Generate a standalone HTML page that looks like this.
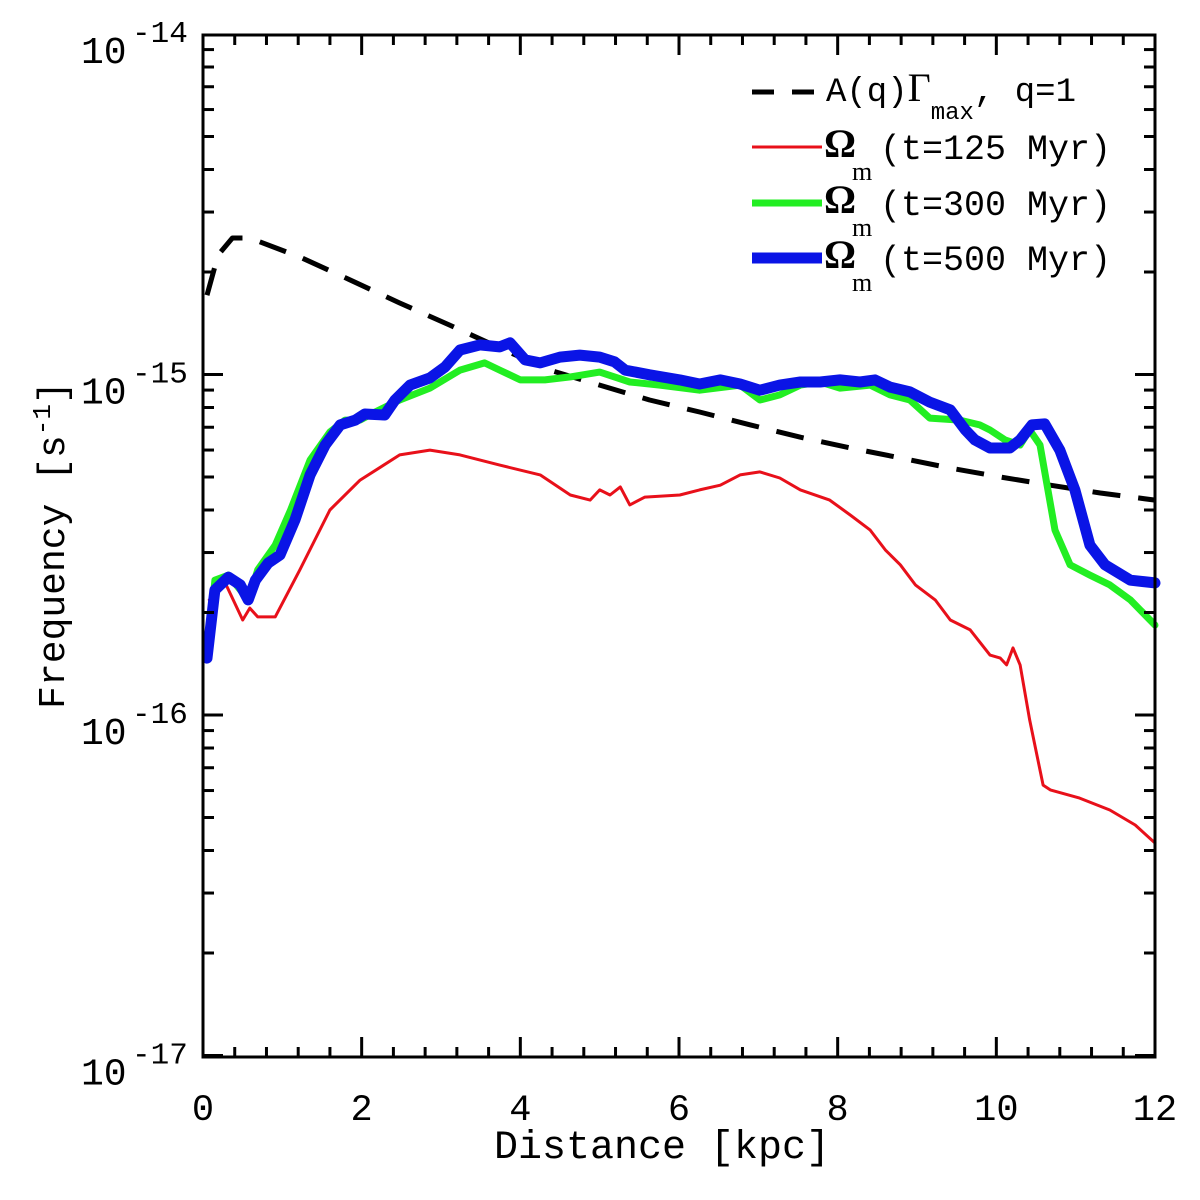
<!DOCTYPE html>
<html><head><meta charset="utf-8"><style>
html,body{margin:0;padding:0;background:#fff;}
svg{display:block;font-family:"Liberation Mono",monospace;}
</style></head><body>
<svg id="chart" width="1200" height="1200" viewBox="0 0 1200 1200" xmlns="http://www.w3.org/2000/svg">
<g id="marks"></g>
<g id="axes"></g>
<g id="legend"></g>
</svg>
<script>
// Data: x in kpc, y as log10(frequency / 1e-16 s^-1)
const dashX=[0.05,0.19,0.37,0.59,1.22,1.85,2.48,3.11,3.74,4.37,5.00,5.63,6.26,6.90,7.53,8.16,8.79,9.42,10.05,10.68,11.31,12.0];
const dashY=[1.233,1.351,1.401,1.401,1.345,1.278,1.210,1.145,1.078,1.013,0.969,0.925,0.890,0.852,0.816,0.784,0.755,0.725,0.699,0.675,0.652,0.631];
const redX=[0.08,0.28,0.50,0.59,0.69,0.91,1.22,1.60,1.98,2.48,2.86,3.24,3.74,4.25,4.63,4.88,5.00,5.13,5.26,5.38,5.57,6.01,6.26,6.52,6.77,7.02,7.27,7.53,7.90,8.16,8.41,8.60,8.79,8.98,9.23,9.42,9.67,9.92,10.05,10.13,10.21,10.30,10.42,10.59,10.68,11.05,11.43,11.75,12.0];
const redY=[0.338,0.388,0.279,0.314,0.288,0.288,0.426,0.602,0.690,0.764,0.778,0.764,0.734,0.705,0.646,0.631,0.661,0.646,0.670,0.617,0.640,0.646,0.661,0.675,0.705,0.714,0.696,0.661,0.631,0.587,0.543,0.485,0.441,0.382,0.338,0.279,0.250,0.176,0.167,0.147,0.197,0.147,-0.015,-0.206,-0.220,-0.244,-0.279,-0.323,-0.376];
const greenX=[0.05,0.15,0.32,0.47,0.57,0.69,0.91,1.10,1.35,1.60,1.79,1.98,2.17,2.48,2.86,3.24,3.55,3.74,4.00,4.31,4.63,5.00,5.38,5.76,6.26,6.77,7.02,7.27,7.53,7.78,8.03,8.41,8.66,8.91,9.16,9.54,9.79,9.92,10.11,10.30,10.42,10.55,10.74,10.93,11.18,11.43,11.69,12.0];
const greenY=[0.162,0.396,0.411,0.367,0.338,0.426,0.499,0.600,0.749,0.831,0.866,0.866,0.890,0.925,0.960,1.013,1.034,1.013,0.984,0.984,0.993,1.007,0.978,0.969,0.954,0.969,0.925,0.940,0.969,0.978,0.960,0.969,0.940,0.925,0.872,0.866,0.852,0.837,0.808,0.793,0.837,0.793,0.543,0.441,0.411,0.382,0.338,0.264];
const blueX=[0.05,0.15,0.32,0.47,0.57,0.66,0.82,0.97,1.16,1.35,1.54,1.73,1.92,2.04,2.29,2.42,2.61,2.86,3.05,3.24,3.49,3.74,3.87,4.06,4.25,4.50,4.75,5.00,5.19,5.32,5.63,6.01,6.26,6.52,6.77,7.02,7.27,7.53,7.78,8.03,8.28,8.47,8.66,8.91,9.16,9.42,9.61,9.73,9.92,10.17,10.30,10.45,10.61,10.80,10.99,11.18,11.37,11.69,12.0];
const blueY=[0.167,0.367,0.405,0.382,0.338,0.396,0.446,0.470,0.573,0.705,0.793,0.852,0.866,0.884,0.881,0.925,0.969,0.990,1.022,1.072,1.087,1.081,1.093,1.043,1.034,1.051,1.057,1.051,1.037,1.013,0.999,0.984,0.972,0.984,0.972,0.954,0.969,0.978,0.978,0.984,0.978,0.984,0.963,0.949,0.919,0.896,0.837,0.808,0.784,0.784,0.808,0.852,0.855,0.778,0.661,0.499,0.441,0.396,0.388];
const xTicks=[0,2,4,6,8,10,12];
const yDecades=[-14,-15,-16,-17];

const NS='http://www.w3.org/2000/svg';
const L=203,R=1155,T=35,B=1057;
const xs=v=>L+(v/12)*(R-L);
const ys=lg=>715-lg*340.5; // lg = log10(f/1e-16)
const ysDec=d=>ys(d+16);
function mk(tag,attrs,parent){const e=document.createElementNS(NS,tag);for(const k in attrs)e.setAttribute(k,attrs[k]);parent.appendChild(e);return e;}
const marks=document.getElementById('marks'),axes=document.getElementById('axes'),legend=document.getElementById('legend');
function line(xa,ya,color,w,name,dash){
  const d=xa.map((x,i)=>(i?'L':'M')+xs(x).toFixed(1)+','+ys(ya[i]).toFixed(1)).join('');
  const p=mk('path',{d:d,fill:'none',stroke:color,'stroke-width':w,'stroke-linejoin':'round','stroke-linecap':dash?'butt':'round'},marks);
  if(dash)p.setAttribute('stroke-dasharray',dash);
  
  
}
line(dashX,dashY,'#000',5,'dashed-gamma-max-line','28,18');
line(redX,redY,'#e8101a',3,'red-125myr-line');
line(greenX,greenY,'#22ee22',7,'green-300myr-line');
line(blueX,blueY,'#0a14e6',11,'blue-500myr-line');

const fr=mk('rect',{x:L,y:T,width:R-L,height:B-T,fill:'none',stroke:'#000','stroke-width':3},axes);


for(let i=0;i<=30;i++){
  const v=i*0.4;const major=i%5===0;const len=major?20:10;const x=xs(v);
  mk('line',{x1:x,y1:B,x2:x,y2:B-len,stroke:'#000','stroke-width':3},axes);
  mk('line',{x1:x,y1:T,x2:x,y2:T+len,stroke:'#000','stroke-width':3},axes);
}
xTicks.forEach(v=>{
  const t=mk('text',{x:xs(v),y:1120,'text-anchor':'middle','font-size':37,fill:'#000'},axes);t.textContent=String(v);
  
  
});
for(let d=-17;d<-14;d++){
  for(let m=1;m<10;m++){
    const y=ys(d+16+Math.log10(m));const len=m===1?20:11;
    mk('line',{x1:L,y1:y,x2:L+len,y2:y,stroke:'#000','stroke-width':3},axes);
    mk('line',{x1:R,y1:y,x2:R-len,y2:y,stroke:'#000','stroke-width':3},axes);
  }
}
yDecades.forEach(d=>{
  const y=ysDec(d);
  const t=mk('text',{x:81,y:y+29,'font-size':38,fill:'#000'},axes);
  t.textContent='10';
  
  
  const s=mk('text',{x:132,y:y+8,'font-size':31,fill:'#000'},axes);s.textContent=String(d);
});
const xl=mk('text',{x:662,y:1158,'text-anchor':'middle','font-size':40,fill:'#000'},axes);xl.textContent='Distance [kpc]';


const yl=mk('text',{transform:'translate(64,545) rotate(-90)','text-anchor':'middle','font-size':38,fill:'#000'},axes);
yl.innerHTML='Frequency [s<tspan dy="-14" font-size="26">-1</tspan><tspan dy="14">]</tspan>';


function entry(y,color,w,dash,name){
  const g=mk('g',{},legend);
  
  
  const l=mk('line',{x1:752,y1:y,x2:822,y2:y,stroke:color,'stroke-width':w},g);
  if(dash)l.setAttribute('stroke-dasharray',dash);
  return g;
}
const g0=entry(92,'#000',5,'22,18','legend-entry-gamma');
const t0=mk('text',{x:826,y:101,'font-size':34,fill:'#000'},g0);
t0.innerHTML='A(q)<tspan font-family="Liberation Serif" font-size="40">Γ</tspan><tspan dy="18" font-size="24">max</tspan><tspan dy="-18">, q=1</tspan>';
const names=[['(t=125 Myr)','#e8101a',3,147,'legend-entry-125'],['(t=300 Myr)','#22ee22',7,203,'legend-entry-300'],['(t=500 Myr)','#0a14e6',11,258,'legend-entry-500']];
names.forEach(n=>{
  const g=entry(n[3],n[1],n[2],null,n[4]);
  const o=mk('text',{x:824,y:n[3]+10,'font-size':40,'font-family':'Liberation Serif','font-weight':'bold',fill:'#000'},g);o.textContent='Ω';
  const m=mk('text',{x:852,y:n[3]+33,'font-size':26,'font-family':'Liberation Serif',fill:'#000'},g);m.textContent='m';
  const t=mk('text',{x:880,y:n[3]+12,'font-size':35,fill:'#000'},g);t.textContent=n[0];
});
</script>
</body></html>
